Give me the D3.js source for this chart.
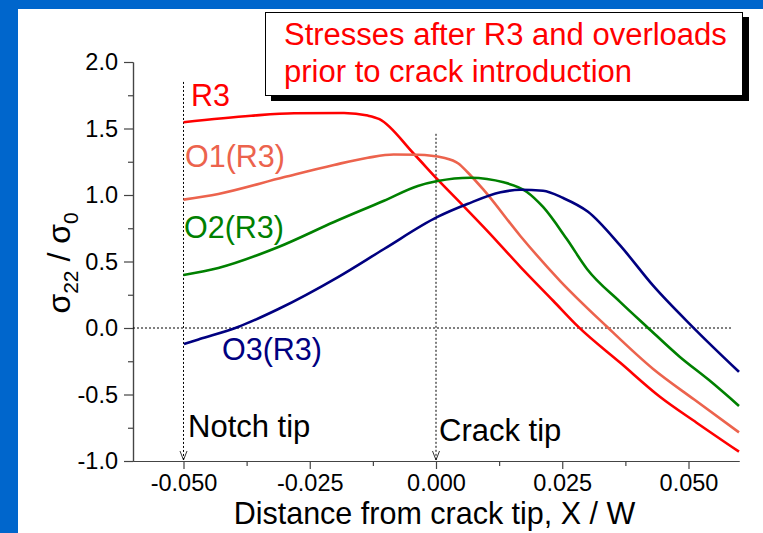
<!DOCTYPE html>
<html><head><meta charset="utf-8">
<script src="https://cdn.jsdelivr.net/npm/d3@7"></script>
<style>body{margin:0;padding:0;overflow:hidden}svg{display:block}text{font-family:"Liberation Sans",Arial,sans-serif}</style>
</head><body>
<script>
// ---- data ----
const r3X = [-0.050, -0.0366, -0.0281, -0.0182, -0.0135, -0.0112, -0.0044, 0.0003, 0.0055, 0.0102, 0.0167, 0.0232, 0.0282, 0.0365, 0.0444, 0.0516, 0.0600];
const r3Y = [1.547, 1.596, 1.615, 1.617, 1.597, 1.570, 1.310, 1.117, 0.915, 0.729, 0.460, 0.205, 0.008, -0.262, -0.519, -0.712, -0.930];
const o1X = [-0.050, -0.0431, -0.0300, -0.0202, -0.0135, -0.0084, -0.0036, 0.0015, 0.0045, 0.0062, 0.0094, 0.0167, 0.0246, 0.0337, 0.0430, 0.0512, 0.0600];
const o1Y = [0.965, 1.008, 1.135, 1.226, 1.280, 1.305, 1.303, 1.280, 1.235, 1.173, 1.040, 0.692, 0.353, 0.015, -0.308, -0.540, -0.785];
const o2X = [-0.050, -0.0431, -0.0312, -0.0202, -0.0103, -0.0036, 0.0003, 0.0068, 0.0134, 0.0180, 0.0212, 0.0259, 0.0299, 0.0365, 0.0418, 0.0483, 0.0540, 0.0600];
const o2Y = [0.398, 0.451, 0.609, 0.797, 0.957, 1.068, 1.105, 1.130, 1.095, 1.023, 0.910, 0.669, 0.444, 0.195, 0.008, -0.218, -0.390, -0.586];
const o3X = [-0.0499, -0.0468, -0.0392, -0.0312, -0.0194, -0.0103, 0.0003, 0.0062, 0.0128, 0.0167, 0.0212, 0.0252, 0.0301, 0.0365, 0.0430, 0.0509, 0.0600];
const o3Y = [-0.120, -0.083, 0.008, 0.143, 0.383, 0.594, 0.835, 0.932, 1.020, 1.040, 1.032, 0.977, 0.874, 0.619, 0.318, 0.005, -0.330];
const seriesNames = ["R3", "O1(R3)", "O2(R3)", "O3(R3)"];
const xMajorTicks = [-0.050, -0.025, 0.000, 0.025, 0.050];
const xMinorTicks = [-0.0375, -0.0125, 0.0125, 0.0375];
const yMajorTicks = [-1.0, -0.5, 0.0, 0.5, 1.0, 1.5, 2.0];
const yMinorTicks = [-0.75, -0.25, 0.25, 0.75, 1.25, 1.75];
const titleLines = ["Stresses after R3 and overloads", "prior to crack introduction"];
const xTitle = "Distance from crack tip, X / W";

// ---- layout ----
const W = 763, H = 533;
const svg = d3.select("body").append("svg").attr("width", W).attr("height", H);
svg.append("rect").attr("width", W).attr("height", H).attr("fill", "#0066cc");
svg.append("rect").attr("x", 18).attr("y", 9).attr("width", W - 18).attr("height", H - 9).attr("fill", "#fff");

const x = d3.scaleLinear().domain([-0.06, 0.06]).range([133, 739]);
const y = d3.scaleLinear().domain([-1, 2]).range([461, 62]);

const axisCol = "#444";
const fmtX = d => d.toFixed(3);
const fmtY = d => d.toFixed(1);

function styleAxis(g) {
  g.selectAll(".domain").attr("stroke", axisCol).attr("stroke-width", 1.2);
  g.selectAll(".tick line").attr("stroke", axisCol).attr("stroke-width", 1.2);
  g.selectAll("text").attr("fill", "#000").style("font-size", "23.5px").style("font-family", '"Liberation Sans",Arial,sans-serif');
}

const gx = svg.append("g").attr("transform", `translate(0,${y(-1)})`)
  .call(d3.axisBottom(x).tickValues(xMajorTicks).tickFormat(fmtX).tickSize(8).tickPadding(5).tickSizeOuter(0));
styleAxis(gx);
const gxm = svg.append("g").attr("transform", `translate(0,${y(-1)})`)
  .call(d3.axisBottom(x).tickValues(xMinorTicks).tickFormat("").tickSize(5).tickSizeOuter(0));
styleAxis(gxm);

const gy = svg.append("g").attr("transform", `translate(${x(-0.06)},0)`)
  .call(d3.axisLeft(y).tickValues(yMajorTicks).tickFormat(fmtY).tickSize(9).tickPadding(6).tickSizeOuter(0));
styleAxis(gy);
const gym = svg.append("g").attr("transform", `translate(${x(-0.06)},0)`)
  .call(d3.axisLeft(y).tickValues(yMinorTicks).tickFormat("").tickSize(5).tickSizeOuter(0));
styleAxis(gym);

// dotted reference lines
const dot = "2,2";
svg.append("line").attr("x1", x(-0.06)).attr("x2", x(0.0585)).attr("y1", y(0)).attr("y2", y(0))
  .attr("stroke", "#000").attr("stroke-width", 1).attr("stroke-dasharray", dot);
[[-0.05, 1.85], [0.0, 1.46]].forEach(([xv, top]) => {
  svg.append("line").attr("x1", x(xv)).attr("x2", x(xv)).attr("y1", y(top)).attr("y2", y(-1) - 1)
    .attr("stroke", "#000").attr("stroke-width", 1).attr("stroke-dasharray", dot);
  svg.append("path").attr("d", `M${x(xv) - 3.5},${y(-1) - 10} L${x(xv)},${y(-1) - 1} L${x(xv) + 3.5},${y(-1) - 10}`)
    .attr("fill", "none").attr("stroke", "#000").attr("stroke-width", 0.8);
});

// curves
const series = [
  {name: seriesNames[0], xs: r3X, ys: r3Y, color: "#ff0000"},
  {name: seriesNames[1], xs: o1X, ys: o1Y, color: "#ec634d"},
  {name: seriesNames[2], xs: o2X, ys: o2Y, color: "#008000"},
  {name: seriesNames[3], xs: o3X, ys: o3Y, color: "#000080"}
];
const line = d3.line().x(d => x(d[0])).y(d => y(d[1])).curve(d3.curveMonotoneX);
series.forEach(s => {
  svg.append("path").datum(s.xs.map((v, i) => [v, s.ys[i]]))
    .attr("d", line).attr("fill", "none").attr("stroke", s.color).attr("stroke-width", 2.6)
    .attr("stroke-linejoin", "round");
});

// series labels
const lblPos = [[191, 106], [185, 167], [184, 238], [222, 360]];
series.forEach((s, i) => {
  svg.append("text").attr("x", lblPos[i][0]).attr("y", lblPos[i][1]).text(s.name)
    .attr("fill", s.color).style("font-size", "30.5px");
});

svg.append("text").attr("x", 188).attr("y", 437).text("Notch tip").style("font-size", "31px");
svg.append("text").attr("x", 439).attr("y", 441).text("Crack tip").style("font-size", "31px");

// x title
svg.append("text").attr("x", 434.5).attr("y", 523.5).attr("text-anchor", "middle").text(xTitle).style("font-size", "30.5px");

// y title
const yt = svg.append("text").attr("transform", "translate(70,263) rotate(-90)").attr("text-anchor", "middle").style("font-size", "32px");
yt.append("tspan").text("σ");
yt.append("tspan").text("22").attr("dy", 8).style("font-size", "21px");
yt.append("tspan").text(" / σ").attr("dy", -8);
yt.append("tspan").text("0").attr("dy", 8).style("font-size", "21px");

// title box
svg.append("rect").attr("x", 271).attr("y", 17).attr("width", 478).attr("height", 84).attr("fill", "#000");
svg.append("rect").attr("x", 265.5).attr("y", 12.5).attr("width", 477).attr("height", 83).attr("fill", "#fff").attr("stroke", "#000").attr("stroke-width", 1);
titleLines.forEach((t, i) => {
  svg.append("text").attr("x", 284).attr("y", 45 + i * 37).text(t).attr("fill", "#ff0000").style("font-size", "31px");
});
</script>
</body></html>
